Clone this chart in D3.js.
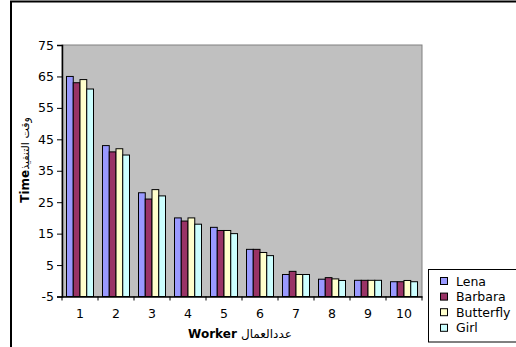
<!DOCTYPE html>
<html><head><meta charset="utf-8">
<script src="https://cdn.jsdelivr.net/npm/d3@7"></script>
<style>body{margin:0;background:#fff}svg{display:block;font-family:"DejaVu Sans",sans-serif}</style>
</head><body><svg id="c" width="516" height="347"></svg>
<script>
const categories = ["1","2","3","4","5","6","7","8","9","10"];
const seriesNames = ["Lena","Barbara","Butterfly","Girl"];
const lena      = [65, 43, 28, 20, 17, 10, 2, 0.5, 0.15, -0.3];
const barbara   = [63, 41, 26, 19, 16, 10, 3, 1, 0.15, -0.3];
const butterfly = [64, 42, 29, 20, 16, 9, 2, 0.6, 0.15, 0.1];
const girl      = [61, 40, 27, 18, 15, 8, 2, 0.1, 0.15, -0.3];
const yTicks = [-5, 5, 15, 25, 35, 45, 55, 65, 75];
const colors = ["#9999FF", "#993366", "#FFFFCC", "#CCFFFF"];
const seriesValues = [lena, barbara, butterfly, girl];

const svg = d3.select("#c");
// outer frame
svg.append("path").attr("d","M11,360 V1.5 H530").attr("fill","none").attr("stroke","#000").attr("stroke-width",2);

const L = 62, R = 422, T = 45, B = 296.5;
const x = d3.scaleBand().domain(categories).range([L, R]).paddingInner(0.25).paddingOuter(0.125);
const xb = d3.scaleBand().domain(categories).range([L, R]);
const xs = d3.scaleBand().domain(seriesNames).range([0, x.bandwidth()]);
const y = d3.scaleLinear().domain([-5, 75]).range([B, T]);

svg.append("rect").attr("x", L).attr("y", T).attr("width", R - L).attr("height", B - T)
  .attr("fill", "#C0C0C0").attr("stroke", "#808080").attr("stroke-width", 1);

const g = svg.append("g");
seriesNames.forEach((s, si) => {
  g.selectAll(null).data(categories).enter().append("rect")
    .attr("x", (c) => x(c) + xs(s))
    .attr("width", xs.bandwidth())
    .attr("y", (c, i) => y(seriesValues[si][i]))
    .attr("height", (c, i) => y(-5) - y(seriesValues[si][i]))
    .attr("fill", colors[si]).attr("stroke", "#000").attr("stroke-width", 1);
});

const tf = "DejaVu Sans, sans-serif";
// y axis
const ya = svg.append("g").attr("transform", `translate(${L},0)`)
  .call(d3.axisLeft(y).tickValues(yTicks).tickSize(5).tickPadding(3).tickFormat(d => String(d)));
ya.select(".domain").attr("stroke", "#000").attr("stroke-width", 1.5);
ya.selectAll("text").attr("font-size", 12.5).attr("fill", "#000").attr("font-family", tf);

// x axis
const xa = svg.append("g").attr("transform", `translate(0,${B})`)
  .call(d3.axisBottom(xb).tickSize(0).tickPadding(13));
xa.select(".domain").attr("stroke", "#000").attr("stroke-width", 1.5);
xa.selectAll("text").attr("font-size", 12.5).attr("fill", "#000").attr("font-family", tf);
const bounds = categories.map(c => xb(c)).concat([R]);
svg.append("g").selectAll("line").data(bounds).enter().append("line")
  .attr("x1", d => d).attr("x2", d => d).attr("y1", B).attr("y2", B + 4)
  .attr("stroke", "#000");

// axis titles
const xt = svg.append("text").attr("x", 240).attr("y", 338).attr("text-anchor", "middle")
  .attr("font-size", 12).attr("font-weight", "bold");
xt.append("tspan").text("Worker ");
xt.append("tspan").attr("font-weight", "normal").attr("font-size", 12).text("عددالعمال");

const yt = svg.append("text").attr("transform", "translate(29,160) rotate(-90)").attr("text-anchor", "middle")
  .attr("font-size", 12).attr("font-weight", "bold");
yt.append("tspan").text("Time");
yt.append("tspan").attr("font-weight", "normal").attr("font-size", 11).text("وقت التنفيذ");

// legend
const lg = svg.append("g");
lg.append("rect").attr("x", 428.5).attr("y", 269.5).attr("width", 100).attr("height", 72.5)
  .attr("fill", "#fff").attr("stroke", "#000");
seriesNames.forEach((s, i) => {
  const cy = 281 + i * 15.6;
  lg.append("rect").attr("x", 440.5).attr("y", cy - 3.5).attr("width", 7).attr("height", 7)
    .attr("fill", colors[i]).attr("stroke", "#000");
  lg.append("text").attr("x", 456).attr("y", cy + 4.5).attr("font-size", 12.5).text(s);
});
</script></body></html>
